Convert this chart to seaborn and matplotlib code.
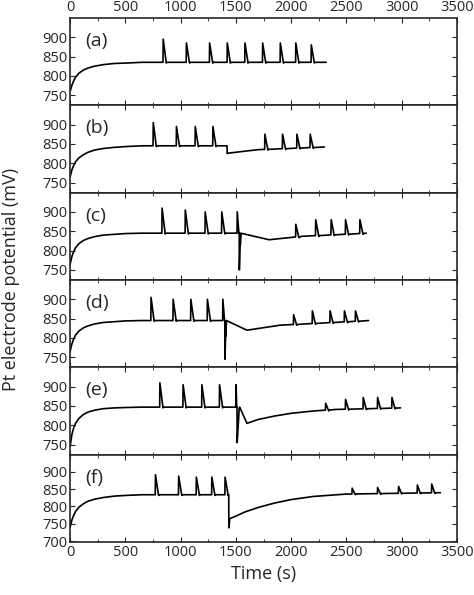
import numpy as np
import pandas as pd
import matplotlib
matplotlib.use("Agg")
import matplotlib.pyplot as plt
import seaborn as sns

sns.set_style("ticks")
plt.rcParams['font.family'] = ['Open Sans', 'DejaVu Sans']

labels = ["(a)", "(b)", "(c)", "(d)", "(e)", "(f)"]
rise_t = [0, 15, 30, 50, 80, 120, 160, 220, 300, 400, 500, 650]
rise_a = [760, 775, 786, 797, 807, 815, 820, 825, 829, 832, 833, 835]
rise_b = [765, 782, 793, 804, 814, 822, 828, 834, 838, 841, 843, 845]
rise_c = [765, 784, 796, 808, 818, 826, 831, 836, 840, 842, 844, 845]
rise_d = [765, 784, 796, 808, 818, 826, 831, 836, 840, 842, 844, 845]
rise_e = [745, 775, 792, 806, 818, 828, 834, 839, 843, 845, 846, 847]
rise_f = [740, 760, 773, 786, 798, 808, 815, 821, 826, 830, 832, 834]
rises = [rise_a, rise_b, rise_c, rise_d, rise_e, rise_f]

spk1_t = [[840, 1050, 1260, 1420, 1580, 1740, 1900, 2040, 2180],
          [750, 960, 1130, 1290],
          [830, 1040, 1220, 1370, 1510],
          [730, 930, 1090, 1240, 1380],
          [810, 1020, 1190, 1350, 1500],
          [770, 980, 1140, 1280, 1400]]
spk1_h = [[895, 885, 885, 885, 885, 885, 885, 885, 880],
          [905, 895, 895, 895],
          [910, 905, 900, 900, 900],
          [905, 900, 900, 900, 900],
          [910, 905, 905, 905, 905],
          [892, 888, 885, 885, 885]]
drop_t = [None, 1420, 1530, 1400, 1510, 1435]
drop_min = [None, 825, 750, 745, 755, 738]
after_t = [[], [1430, 1700, 2300], [1540, 1800, 2100, 2680], [1410, 1600, 1900, 2700],
           [1520, 1600, 1700, 1850, 2000, 2200, 2400, 2990],
           [1445, 1500, 1580, 1700, 1850, 2000, 2200, 2500, 3350]]
after_v = [[], [826, 835, 842], [815, 828, 837, 845], [805, 820, 833, 845],
           [795, 805, 815, 824, 831, 837, 841, 845],
           [765, 772, 784, 797, 810, 820, 829, 836, 840]]
spk2_t = [[], [1760, 1920, 2050, 2170], [2040, 2220, 2360, 2490, 2620],
          [2020, 2190, 2350, 2480, 2580], [2310, 2490, 2650, 2780, 2910],
          [2550, 2780, 2970, 3140, 3270]]
spk2_h = [[], [875, 875, 875, 875], [868, 880, 880, 880, 880],
          [860, 870, 870, 870, 870], [857, 867, 872, 872, 872],
          [853, 855, 858, 862, 865]]
end_t = [2320, 2300, 2680, 2700, 2990, 3350]
ylims = [(724, 950)] * 5 + [(697, 950)]
yticks = [[750, 800, 850, 900]] * 5 + [[700, 750, 800, 850, 900]]


def build(i):
    r = rises[i]
    plateau = r[-1]
    pts = list(zip(rise_t, r))
    seg1_end = drop_t[i] if drop_t[i] else end_t[i]
    for t, h in zip(spk1_t[i], spk1_h[i]):
        pts += [(t, plateau), (t + 2, h), (t + 30, plateau - 2), (t + 34, plateau)]
    pts.append((seg1_end - 3, plateau))
    if drop_t[i]:
        pts += [(drop_t[i], plateau), (drop_t[i] + 1, drop_min[i])]
        at, av = after_t[i], after_v[i]
        pts += list(zip(at, av))
        for t, h in zip(spk2_t[i], spk2_h[i]):
            b = float(np.interp(t, at, av))
            pts += [(t, b), (t + 2, h), (t + 30, b - 2), (t + 34, b)]
    pts.sort(key=lambda p: p[0])
    return pd.DataFrame(pts, columns=["t", "v"])


fig, axes = plt.subplots(6, 1, figsize=(4.74, 5.95), dpi=100, sharex=True,
                         gridspec_kw=dict(hspace=0))
fig.subplots_adjust(left=0.148, right=0.964, top=0.97, bottom=0.089)
for i, ax in enumerate(axes):
    df = build(i)
    sns.lineplot(data=df, x="t", y="v", ax=ax, color="black", lw=1.2,
                 estimator=None, sort=False)
    ax.set_xlim(0, 3500)
    ax.set_ylim(*ylims[i])
    ax.set_yticks(yticks[i])
    ax.set_xticks(range(0, 3501, 500))
    ax.set_xticks(range(250, 3500, 500), minor=True)
    ax.tick_params(direction="in", which="both", top=True, right=True, labelsize=10.5,
                   pad=2)
    ax.set_xlabel("")
    ax.set_ylabel("")
    ax.text(0.04, 0.68, labels[i], transform=ax.transAxes, fontsize=14)
    for s in ax.spines.values():
        s.set_linewidth(1.2)
axes[0].tick_params(labeltop=True)
axes[-1].set_xlabel("Time (s)", fontsize=13)
fig.text(0.005, 0.53, "Pt electrode potential (mV)", rotation=90, va="center", fontsize=13)
fig.savefig("out.png")
